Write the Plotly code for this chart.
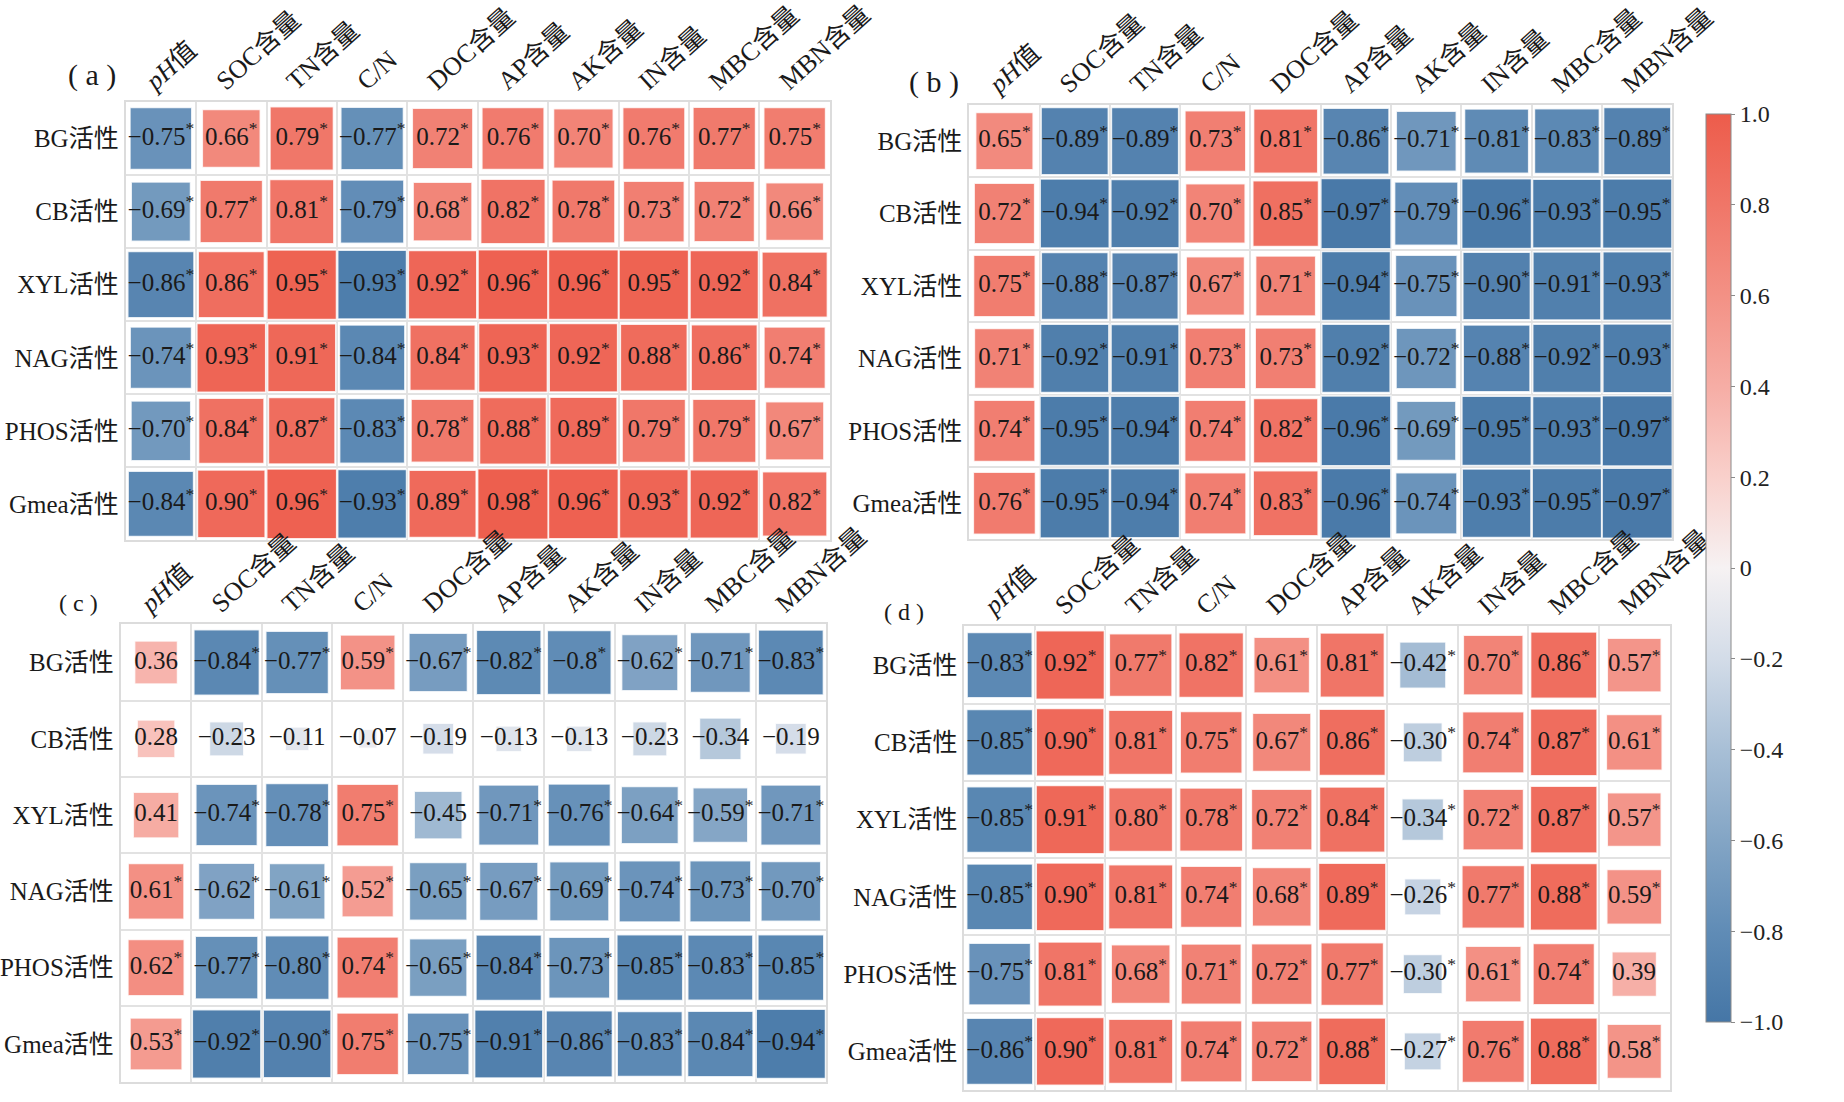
import numpy as np
import plotly.graph_objects as go

# ---- data ----
row_labels = ["BG活性", "CB活性", "XYL活性", "NAG活性", "PHOS活性", "Gmea活性"]
col_labels = ["<i>pH</i>值", "SOC含量", "TN含量", "C/N", "DOC含量",
              "AP含量", "AK含量", "IN含量", "MBC含量", "MBN含量"]

# "*" = significant
vals_a = [
    ["-0.75*", "0.66*", "0.79*", "-0.77*", "0.72*", "0.76*", "0.70*", "0.76*", "0.77*", "0.75*"],
    ["-0.69*", "0.77*", "0.81*", "-0.79*", "0.68*", "0.82*", "0.78*", "0.73*", "0.72*", "0.66*"],
    ["-0.86*", "0.86*", "0.95*", "-0.93*", "0.92*", "0.96*", "0.96*", "0.95*", "0.92*", "0.84*"],
    ["-0.74*", "0.93*", "0.91*", "-0.84*", "0.84*", "0.93*", "0.92*", "0.88*", "0.86*", "0.74*"],
    ["-0.70*", "0.84*", "0.87*", "-0.83*", "0.78*", "0.88*", "0.89*", "0.79*", "0.79*", "0.67*"],
    ["-0.84*", "0.90*", "0.96*", "-0.93*", "0.89*", "0.98*", "0.96*", "0.93*", "0.92*", "0.82*"],
]
vals_b = [
    ["0.65*", "-0.89*", "-0.89*", "0.73*", "0.81*", "-0.86*", "-0.71*", "-0.81*", "-0.83*", "-0.89*"],
    ["0.72*", "-0.94*", "-0.92*", "0.70*", "0.85*", "-0.97*", "-0.79*", "-0.96*", "-0.93*", "-0.95*"],
    ["0.75*", "-0.88*", "-0.87*", "0.67*", "0.71*", "-0.94*", "-0.75*", "-0.90*", "-0.91*", "-0.93*"],
    ["0.71*", "-0.92*", "-0.91*", "0.73*", "0.73*", "-0.92*", "-0.72*", "-0.88*", "-0.92*", "-0.93*"],
    ["0.74*", "-0.95*", "-0.94*", "0.74*", "0.82*", "-0.96*", "-0.69*", "-0.95*", "-0.93*", "-0.97*"],
    ["0.76*", "-0.95*", "-0.94*", "0.74*", "0.83*", "-0.96*", "-0.74*", "-0.93*", "-0.95*", "-0.97*"],
]
vals_c = [
    ["0.36", "-0.84*", "-0.77*", "0.59*", "-0.67*", "-0.82*", "-0.8*", "-0.62*", "-0.71*", "-0.83*"],
    ["0.28", "-0.23", "-0.11", "-0.07", "-0.19", "-0.13", "-0.13", "-0.23", "-0.34", "-0.19"],
    ["0.41", "-0.74*", "-0.78*", "0.75*", "-0.45", "-0.71*", "-0.76*", "-0.64*", "-0.59*", "-0.71*"],
    ["0.61*", "-0.62*", "-0.61*", "0.52*", "-0.65*", "-0.67*", "-0.69*", "-0.74*", "-0.73*", "-0.70*"],
    ["0.62*", "-0.77*", "-0.80*", "0.74*", "-0.65*", "-0.84*", "-0.73*", "-0.85*", "-0.83*", "-0.85*"],
    ["0.53*", "-0.92*", "-0.90*", "0.75*", "-0.75*", "-0.91*", "-0.86*", "-0.83*", "-0.84*", "-0.94*"],
]
vals_d = [
    ["-0.83*", "0.92*", "0.77*", "0.82*", "0.61*", "0.81*", "-0.42*", "0.70*", "0.86*", "0.57*"],
    ["-0.85*", "0.90*", "0.81*", "0.75*", "0.67*", "0.86*", "-0.30*", "0.74*", "0.87*", "0.61*"],
    ["-0.85*", "0.91*", "0.80*", "0.78*", "0.72*", "0.84*", "-0.34*", "0.72*", "0.87*", "0.57*"],
    ["-0.85*", "0.90*", "0.81*", "0.74*", "0.68*", "0.89*", "-0.26*", "0.77*", "0.88*", "0.59*"],
    ["-0.75*", "0.81*", "0.68*", "0.71*", "0.72*", "0.77*", "-0.30*", "0.61*", "0.74*", "0.39"],
    ["-0.86*", "0.90*", "0.81*", "0.74*", "0.72*", "0.88*", "-0.27*", "0.76*", "0.88*", "0.58*"],
]
panel_names = ["( a )", "( b )", "( c )", "( d )"]

cbar_vals = [1.0, 0.8, 0.6, 0.4, 0.2, 0, -0.2, -0.4, -0.6, -0.8, -1.0]
cbar_text = ["1.0", "0.8", "0.6", "0.4", "0.2", "0", "−0.2", "−0.4", "−0.6", "−0.8", "−1.0"]

# ---- style ----
W, H = 1844, 1102
FONT = "Liberation Serif, Noto Sans CJK SC, serif"
colorscale = [
    [0.0, "#4576a6"], [0.1, "#608cb6"], [0.2, "#83a5c5"], [0.3, "#a8bfd6"],
    [0.4, "#d3dce8"], [0.5, "#f6f2f3"], [0.6, "#f9d0cb"], [0.7, "#f6ada5"],
    [0.8, "#f39185"], [0.9, "#f07668"], [1.0, "#ed5c4b"],
]

panels = [
    # x domain, y domain, label pos, label size
    dict(vals=vals_a, xd=[0.0683, 0.4604], yd=[0.5100, 0.9083], lab=(0.0493, 0.9328), ls=30),
    dict(vals=vals_b, xd=[0.5380, 0.9295], yd=[0.5109, 0.9056], lab=(0.5184, 0.9265), ls=30),
    dict(vals=vals_c, xd=[0.0656, 0.4583], yd=[0.0181, 0.4338], lab=(0.0418, 0.4528), ls=24),
    dict(vals=vals_d, xd=[0.5353, 0.9279], yd=[0.0109, 0.4319], lab=(0.5016, 0.4446), ls=24),
]

fig = go.Figure()
ncol, nrow = len(col_labels), len(row_labels)

for k, p in enumerate(panels):
    xs, ys, zs, txt = [], [], [], []
    for i, row in enumerate(p["vals"]):
        for j, s in enumerate(row):
            v = float(s.rstrip("*"))
            xs.append(j)
            ys.append(i)
            zs.append(v)
            t = s.rstrip("*").replace("-", "−")
            if s.endswith("*"):
                t += "<sup>*</sup>"
            txt.append(t)
    zs = np.array(zs)
    cw = (p["xd"][1] - p["xd"][0]) * W / ncol
    ch = (p["yd"][1] - p["yd"][0]) * H / nrow
    cell = min(cw, ch) - 1
    sizes = cell * np.sqrt(np.abs(zs))

    sfx = "" if k == 0 else str(k + 1)
    fig.add_trace(go.Scatter(
        x=xs, y=ys, mode="markers+text",
        text=txt, textposition="middle center",
        textfont=dict(family=FONT, size=25, color="#1a1a1a"),
        marker=dict(
            symbol="square", size=sizes, color=zs, opacity=1,
            colorscale=colorscale, cmin=-1, cmax=1,
            line=dict(color="rgba(255,255,255,0.8)", width=1.5),
            showscale=(k == 0),
            colorbar=dict(
                x=0.948, xanchor="left", y=0.485, yanchor="middle",
                len=0.825, lenmode="fraction", thickness=25,
                xpad=0, ypad=0,
                outlinecolor="#8a8a8a", outlinewidth=1,
                tickmode="array", tickvals=cbar_vals, ticktext=cbar_text,
                ticks="outside", ticklen=4, tickcolor="#8a8a8a",
                tickfont=dict(family=FONT, size=24, color="#222"),
            ),
        ),
        hoverinfo="skip", showlegend=False,
        xaxis="x" + sfx, yaxis="y" + sfx,
    ))

    grid = [g - 0.5 for g in range(ncol + 1)]
    gridy = [g - 0.5 for g in range(nrow + 1)]
    fig.update_layout({
        "xaxis" + sfx: dict(
            domain=p["xd"], anchor="y" + sfx, side="top",
            range=[-0.5, ncol - 0.5], tickmode="array",
            # labels sit a little left of the column centre, as in the original
            tickvals=[j - 0.2 for j in range(ncol)], ticktext=col_labels,
            tickangle=-42, ticklabelstandoff=-5,
            tickfont=dict(family=FONT, size=26, color="#1a1a1a"),
            showgrid=False, zeroline=False, ticks="",
            showline=True, mirror=True, linecolor="#dcdcdc", linewidth=2,
            minor=dict(tickmode="array", tickvals=grid, showgrid=True,
                       gridcolor="#e2e2e2", gridwidth=1.5, ticks=""),
        ),
        "yaxis" + sfx: dict(
            domain=p["yd"], anchor="x" + sfx,
            range=[nrow - 0.5, -0.5], tickmode="array",
            tickvals=list(range(nrow)), ticktext=row_labels,
            tickfont=dict(family=FONT, size=25, color="#1a1a1a"),
            showgrid=False, zeroline=False, ticks="",
            showline=True, mirror=True, linecolor="#dcdcdc", linewidth=2,
            minor=dict(tickmode="array", tickvals=gridy, showgrid=True,
                       gridcolor="#e2e2e2", gridwidth=1.5, ticks=""),
        ),
    })
    fig.add_annotation(
        text=panel_names[k], x=p["lab"][0], y=p["lab"][1],
        xref="paper", yref="paper", xanchor="center", yanchor="middle",
        showarrow=False,
        font=dict(family=FONT, size=p["ls"], color="#1a1a1a"),
    )

fig.update_layout(
    width=W, height=H,
    margin=dict(l=0, r=0, t=0, b=0),
    paper_bgcolor="white", plot_bgcolor="white",
    font=dict(family=FONT, color="#1a1a1a"),
)

# page body default margin would push the figure off by 8 px
fig.write_html("out.html", config={"displayModeBar": False},
               post_script="document.body.style.margin='0px';")
